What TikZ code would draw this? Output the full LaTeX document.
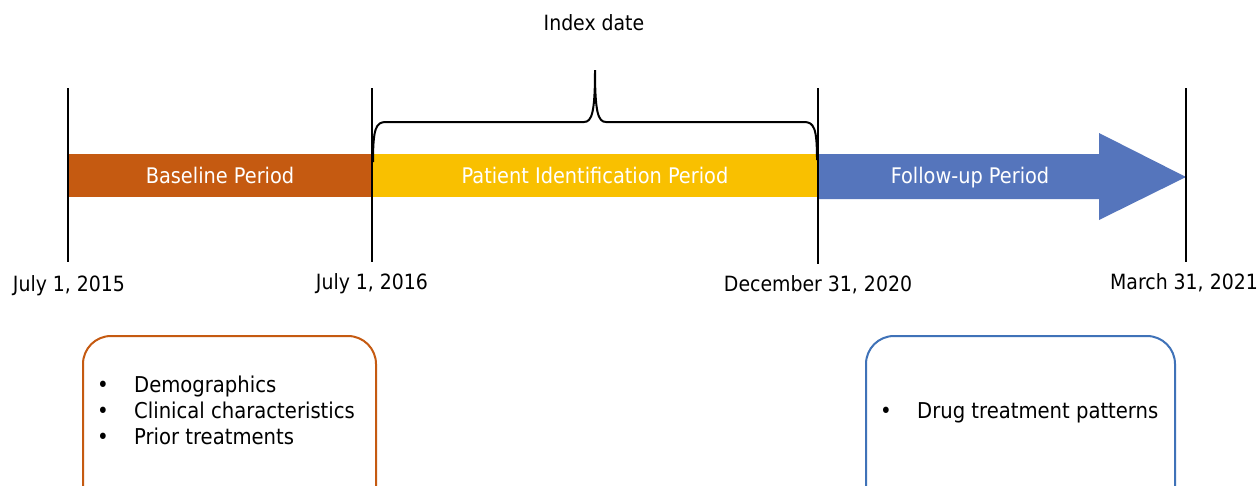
\documentclass[tikz,border=0pt]{standalone}
\usepackage{fontspec}
\setmainfont{DejaVu Sans Condensed}
\definecolor{cOrange}{HTML}{C55A11}
\definecolor{cYellow}{HTML}{F9C000}
\definecolor{cBlue}{HTML}{5575BC}
\definecolor{cBlueLine}{HTML}{3F72B8}
\newcommand{\bul}{\makebox[37pt][l]{\fontsize{22}{22}\selectfont •}}
\tikzset{
  tick/.style={line width=2pt,black},
  bartext/.style={text=white,font=\fontsize{21.5}{24}\selectfont,inner sep=0pt,anchor=base},
  datelbl/.style={text=black,font=\fontsize{21}{24}\selectfont,inner sep=0pt,anchor=base},
  infobox/.style={line width=2pt,rounded corners=28pt,fill=white},
  listtext/.style={font=\fontsize{21.8}{26}\selectfont,align=left,anchor=north west,inner sep=0pt}
}
\begin{document}
\begin{tikzpicture}[x=1pt,y=1pt]
\clip (0,0) rectangle (1258,-485);
\fill[white] (0,0) rectangle (1258,-485);
% bars
\fill[cOrange] (68,-154) rectangle (372,-197);
\fill[cYellow] (372,-154) rectangle (818,-197);
\fill[cBlue] (818,-154) -- (1099,-154) -- (1099,-133) -- (1186,-177) -- (1099,-220) -- (1099,-199) -- (818,-199) -- cycle;
\node[bartext] (base) at (220,-183) {Baseline Period};
\node[bartext] (pip) at (595,-183) {Patient Identification Period};
\node[bartext] (fup) at (970,-183) {Follow-up Period};
% ticks
\coordinate (t1a) at (68,-88); \coordinate (t1b) at (68,-262);
\coordinate (t2a) at (372,-88); \coordinate (t2b) at (372,-262);
\coordinate (t3a) at (818,-88); \coordinate (t3b) at (818,-264);
\coordinate (t4a) at (1186,-88); \coordinate (t4b) at (1186,-262);
\draw[tick] (t1a) -- (t1b);
\draw[tick] (t2a) -- (t2b);
\draw[tick] (t3a) -- (t3b);
\draw[tick] (t4a) -- (t4b);
% brace
\draw[line width=2pt] (373,-162) .. controls (373,-128) and (376,-122) .. (386,-122) -- (584,-122) .. controls (592,-122) and (595,-112) .. (595,-70) .. controls (595,-112) and (598,-122) .. (606,-122) -- (804,-122) .. controls (814,-122) and (817,-128) .. (817,-160);
\node[datelbl] (idx) at (594,-30) {Index date};
% date labels
\node[datelbl] (d1) at (69,-291) {July 1, 2015};
\node[datelbl] (d2) at (372,-289) {July 1, 2016};
\node[datelbl] (d3) at (818,-291) {December 31, 2020};
\node[datelbl] (d4) at (1184,-289) {March 31, 2021};
% boxes
\draw[infobox,draw=cOrange] (83,-336) rectangle (376,-520);
\draw[infobox,draw=cBlueLine] (866,-336) rectangle (1175,-520);
\node[listtext] (l1) at (97,-376) {\bul Demographics\\\bul Clinical characteristics\\\bul Prior treatments};
\node[listtext] (l2) at (880,-402) {\bul Drug treatment patterns};
\end{tikzpicture}
\end{document}
